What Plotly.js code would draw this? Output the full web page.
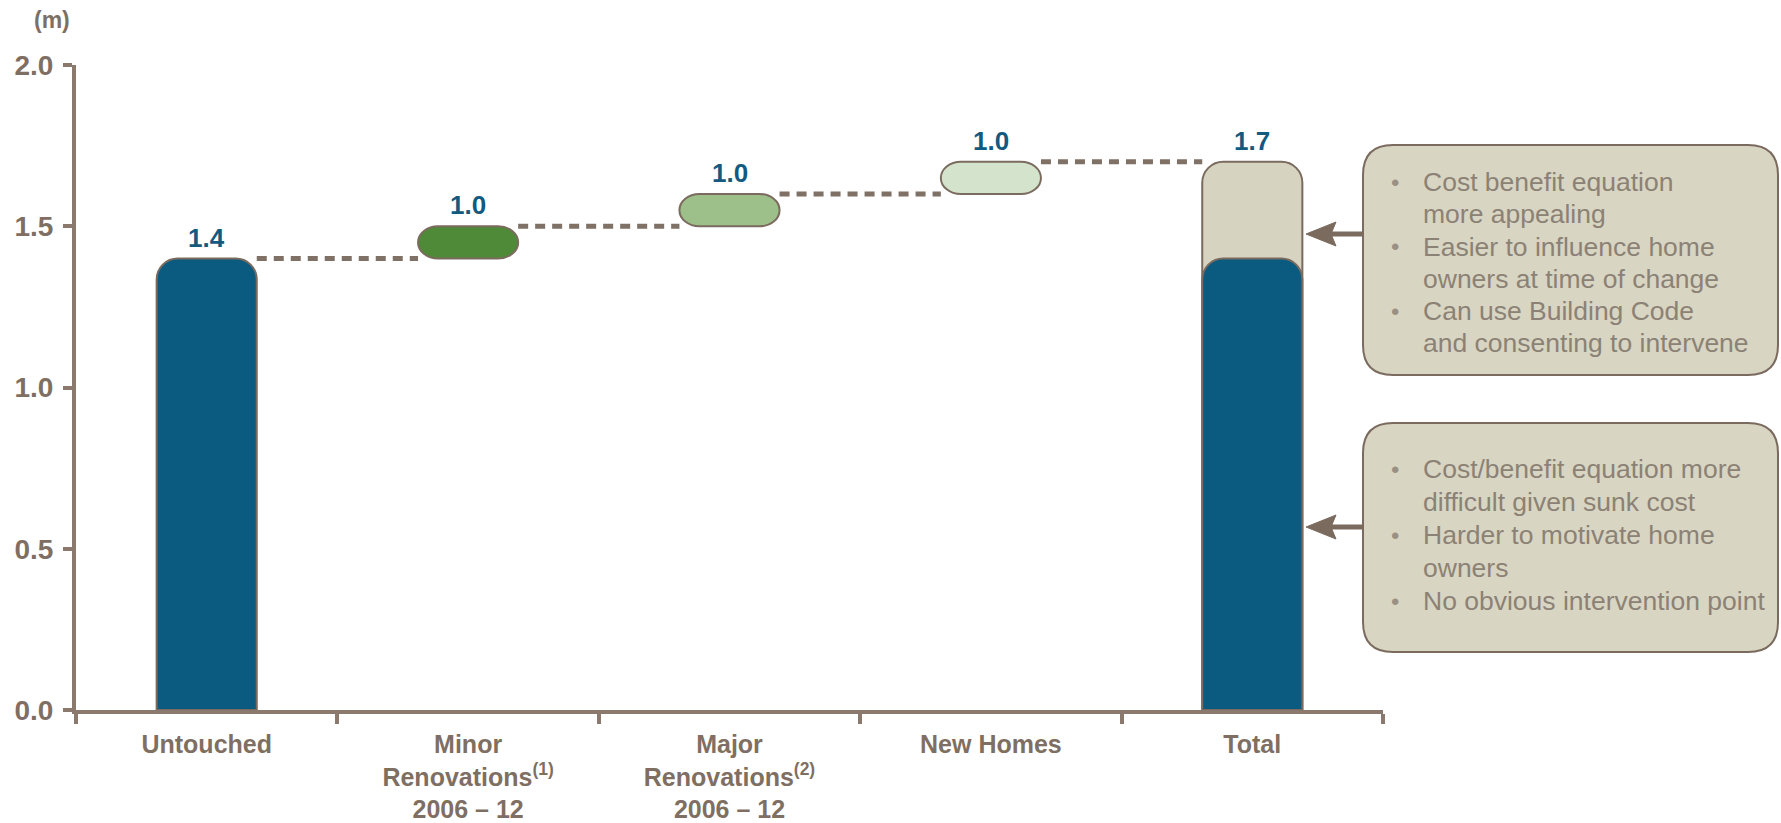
<!DOCTYPE html>
<html>
<head>
<meta charset="utf-8">
<script src="https://cdn.plot.ly/plotly-3.0.1.min.js"></script>
<style>html,body{margin:0;padding:0;background:#fff;}#chart{width:1781px;height:823px;}</style>
</head>
<body>
<div id="chart"></div>
<script>
// ---------- data ----------
const categories = ['Untouched', 'Minor Renovations 2006 – 12', 'Major Renovations 2006 – 12', 'New Homes', 'Total'];
const tickLabels = ['Untouched', 'Minor<br>Renovations<sup>(1)</sup><br>2006 – 12', 'Major<br>Renovations<sup>(2)</sup><br>2006 – 12', 'New Homes', 'Total'];
const stepBase = [0, 1.4, 1.5, 1.6, 0];
const stepTop = [1.4, 1.5, 1.6, 1.7, 1.7];
const totalExisting = 1.4;
const valueLabels = ['1.4', '1.0', '1.0', '1.0', '1.7'];
const yTickVals = [0, 0.5, 1.0, 1.5, 2.0];
const yTickText = ['0.0', '0.5', '1.0', '1.5', '2.0'];
const unitLabel = '(m)';
const boxUpperLines = ['Cost benefit equation', 'more appealing', 'Easier to influence home', 'owners at time of change', 'Can use Building Code', 'and consenting to intervene'];
const boxUpperBullets = [true, false, true, false, true, false];
const boxLowerLines = ['Cost/benefit equation more', 'difficult given sunk cost', 'Harder to motivate home', 'owners', 'No obvious intervention point'];
const boxLowerBullets = [true, false, true, false, true];

// ---------- styles ----------
const FONT = 'Liberation Sans, Arial, Helvetica, sans-serif';
const C_BLUE = '#0b5a80';
const C_BEIGE = '#d7d3c1';
const C_OUT = '#7b6b5f';
const C_AXIS = '#8a796c';
const C_TICK = '#7f6f62';
const C_VAL = '#125a80';
const pillColors = [null, '#4f8a38', '#9dc08b', '#d4e4cc', null];
const BOX_FILL = '#d9d5c3';
const BOX_TEXT = '#8b8275';
const BAR_W = 0.383;

const W = 1781, H = 823;
const M = {l: 76, r: 398, t: 65, b: 113};
const PW = W - M.l - M.r, PH = H - M.t - M.b;
const pxX = px => (px - M.l) / PW;
const pxY = py => (H - M.b - py) / PH;

// ---------- traces ----------
const traces = [];
const barStyle = c => ({color: c, line: {color: C_OUT, width: 2}, cornerradius: 21});
traces.push({type: 'bar', x: [0, 4], y: [stepTop[0], stepTop[4]], width: BAR_W, marker: barStyle([C_BLUE, C_BEIGE]), hoverinfo: 'skip', showlegend: false});
// existing-home part of the total, on an overlaid axis so it gets its own rounded top
traces.push({type: 'bar', x: [4], y: [totalExisting], width: BAR_W, xaxis: 'x2', marker: barStyle(C_BLUE), hoverinfo: 'skip', showlegend: false});
// connectors
const cx = [], cy = [];
for (let i = 0; i < categories.length - 1; i++) {
  cx.push(i + BAR_W / 2, i + 1 - BAR_W / 2, null);
  cy.push(stepTop[i], stepTop[i], null);
}
traces.push({
  type: 'scatter', mode: 'lines', x: cx, y: cy,
  line: {color: '#7f7165', width: 5, dash: '10px,7px'}, hoverinfo: 'skip', showlegend: false
});

// ---------- shapes ----------
const shapes = [];
const unitPx = PW / categories.length;
const rxData = 20 / unitPx;
const k = 0.5523;
for (let i = 0; i < categories.length; i++) {
  if (!pillColors[i]) continue;
  const x0 = i - BAR_W / 2, x1 = i + BAR_W / 2, yb = stepBase[i], yt = stepTop[i];
  const ym = (yb + yt) / 2, ry = (yt - yb) / 2, rx = rxData;
  const p = `M ${x0 + rx},${yb} L ${x1 - rx},${yb} ` +
    `C ${x1 - rx + k * rx},${yb} ${x1},${ym - k * ry} ${x1},${ym} ` +
    `C ${x1},${ym + k * ry} ${x1 - rx + k * rx},${yt} ${x1 - rx},${yt} ` +
    `L ${x0 + rx},${yt} ` +
    `C ${x0 + rx - k * rx},${yt} ${x0},${ym + k * ry} ${x0},${ym} ` +
    `C ${x0},${ym - k * ry} ${x0 + rx - k * rx},${yb} ${x0 + rx},${yb} Z`;
  shapes.push({type: 'path', xref: 'x', yref: 'y', path: p, fillcolor: pillColors[i], line: {color: C_OUT, width: 2}, layer: 'above'});
}
function roundRect(x0, y0, x1, y1, r) {
  const X = pxX, Y = pxY;
  return `M ${X(x0 + r)},${Y(y0)} L ${X(x1 - r)},${Y(y0)} Q ${X(x1)},${Y(y0)} ${X(x1)},${Y(y0 + r)} ` +
    `L ${X(x1)},${Y(y1 - r)} Q ${X(x1)},${Y(y1)} ${X(x1 - r)},${Y(y1)} ` +
    `L ${X(x0 + r)},${Y(y1)} Q ${X(x0)},${Y(y1)} ${X(x0)},${Y(y1 - r)} ` +
    `L ${X(x0)},${Y(y0 + r)} Q ${X(x0)},${Y(y0)} ${X(x0 + r)},${Y(y0)} Z`;
}
shapes.push({type: 'path', xref: 'paper', yref: 'paper', path: roundRect(1363, 145, 1778, 375, 30), fillcolor: BOX_FILL, line: {color: C_OUT, width: 2}});
shapes.push({type: 'path', xref: 'paper', yref: 'paper', path: roundRect(1363, 423, 1778, 652, 30), fillcolor: BOX_FILL, line: {color: C_OUT, width: 2}});
// arrows from boxes to the total bar
[234, 527].forEach(py => {
  shapes.push({type: 'line', xref: 'paper', yref: 'paper', x0: pxX(1363), x1: pxX(1328), y0: pxY(py), y1: pxY(py), line: {color: C_OUT, width: 5}});
  shapes.push({type: 'path', xref: 'paper', yref: 'paper',
    path: `M ${pxX(1306)},${pxY(py)} L ${pxX(1336)},${pxY(py - 12)} L ${pxX(1331)},${pxY(py)} L ${pxX(1336)},${pxY(py + 12)} Z`,
    fillcolor: C_OUT, line: {color: C_OUT, width: 1}});
});

// ---------- annotations ----------
const annotations = [];
for (let i = 0; i < categories.length; i++) {
  annotations.push({
    x: i, y: stepTop[i], xref: 'x', yref: 'y', text: valueLabels[i], showarrow: false,
    yanchor: 'middle', yshift: 21, font: {family: FONT, size: 26, color: C_VAL, weight: 'bold'}
  });
}
annotations.push({
  xref: 'paper', yref: 'paper', x: pxX(52), y: pxY(20), text: unitLabel, showarrow: false,
  xanchor: 'center', yanchor: 'middle', font: {family: FONT, size: 23, color: C_TICK, weight: 'bold'}
});
function boxText(lines, bullets, firstY, step) {
  lines.forEach((t, j) => {
    const py = firstY + j * step;
    annotations.push({
      xref: 'paper', yref: 'paper', x: pxX(1421), y: pxY(py), xanchor: 'left', yanchor: 'middle',
      showarrow: false, text: t, font: {family: FONT, size: 26.5, color: BOX_TEXT}
    });
    if (bullets[j]) {
      annotations.push({
        xref: 'paper', yref: 'paper', x: pxX(1395), y: pxY(py), xanchor: 'center', yanchor: 'middle',
        showarrow: false, text: '•', font: {family: FONT, size: 24, color: '#9a9185'}
      });
    }
  });
}
boxText(boxUpperLines, boxUpperBullets, 182, 32.3);
boxText(boxLowerLines, boxLowerBullets, 469, 33);

const layout = {
  width: W, height: H, margin: M, paper_bgcolor: '#ffffff', plot_bgcolor: '#ffffff',
  barmode: 'overlay', showlegend: false,
  font: {family: FONT, color: C_TICK},
  xaxis: {
    range: [-0.5, 4.5], tickmode: 'array', tickvals: categories.map((c, i) => i), ticktext: tickLabels,
    ticks: '', showgrid: false, zeroline: false, showline: true, linecolor: C_AXIS, linewidth: 4,
    tickfont: {family: FONT, size: 25, color: C_TICK, weight: 'bold'}, ticklabelstandoff: 9,
    minor: {tickmode: 'array', tickvals: [-0.5, 0.5, 1.5, 2.5, 3.5, 4.5], ticks: 'outside', ticklen: 10, tickwidth: 4, tickcolor: C_AXIS, showgrid: false},
    fixedrange: true
  },
  xaxis2: {range: [-0.5, 4.5], overlaying: 'x', visible: false, showgrid: false, zeroline: false, fixedrange: true},
  yaxis: {
    range: [0, 2.0], tickmode: 'array', tickvals: yTickVals, ticktext: yTickText,
    ticks: 'outside', ticklen: 9, tickwidth: 4, tickcolor: C_AXIS,
    showgrid: false, zeroline: false, showline: true, linecolor: C_AXIS, linewidth: 4,
    tickfont: {family: FONT, size: 28, color: C_TICK, weight: 'bold'}, ticklabelstandoff: 4,
    fixedrange: true
  },
  shapes: shapes, annotations: annotations
};
Plotly.newPlot('chart', traces, layout, {staticPlot: true, displayModeBar: false});
</script>
</body>
</html>
